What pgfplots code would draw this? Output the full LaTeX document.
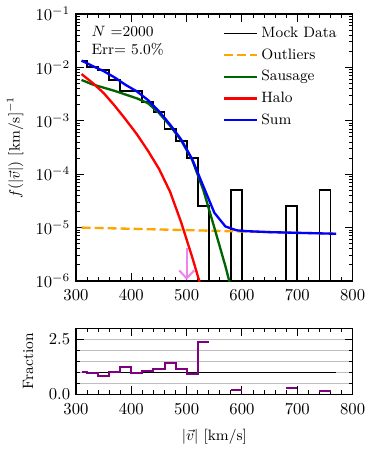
\documentclass[border=0pt]{standalone}
\usepackage{pgfplots}
\pgfplotsset{compat=1.18}
\usetikzlibrary{arrows.meta}

\definecolor{mplorange}{RGB}{255,165,0}
\definecolor{mplgreen}{RGB}{0,100,0}
\definecolor{mplviolet}{RGB}{238,130,238}
\definecolor{mplpurple}{RGB}{128,0,128}

\pgfplotsset{
  panel/.style={
    scale only axis, width=166pt,
    xmin=300, xmax=800,
    xtick={300,400,...,800}, minor x tick num=4,
    tick align=inside, xtick pos=both, ytick pos=both,
    xticklabel pos=lower, yticklabel pos=left,
    major tick length=4.8pt, minor tick length=2.4pt,
    every tick/.style={black, line width=0.6pt},
    axis line style={line width=0.8pt},
    ticklabel style={font=\fontsize{10}{12}\selectfont},
    xticklabel style={yshift=-2pt},
    label style={font=\fontsize{9}{11}\selectfont},
    legend image code/.code={\draw[##1] (0pt,0pt) -- (19.6pt,0pt);},
  },
}

\begin{document}
\begin{tikzpicture}
\path[use as bounding box] (-45.6pt,-103.2pt) rectangle (178.2pt,168.6pt);

\begin{axis}[panel, name=main, at={(0,0)}, anchor=south west,
  height=160.2pt,
  ymode=log, ymin=1e-6, ymax=1e-1,
  ytick={1e-6,1e-5,1e-4,1e-3,1e-2,1e-1},
  ylabel={$f(|\vec{v}|)$ [km/s]$^{-1}$},
  ylabel style={at={(axis description cs:-0.22,0.5)}, anchor=center},
  legend style={draw=none, fill=none, at={(axis description cs:0.955,0.965)},
    anchor=north east, font=\fontsize{9}{10.8}\selectfont,
    row sep=1.2pt, inner sep=0pt},
  legend cell align=left,
  ]
  % mock data histogram (left bin edges)
  \addplot[black, line width=1.1pt, const plot] coordinates {
    (310,0.0132) (320,0.0103) (340,0.00893) (360,0.0058) (380,0.00366)
    (400,0.00366) (420,0.00228) (440,0.00148) (460,0.00069) (480,0.000425)
    (500,0.000201) (520,2.5e-5) (540,1e-8) (580,5e-5) (600,1e-8)
    (680,2.5e-5) (700,1e-8) (740,5e-5) (760,1e-8) (770,1e-8)
  };
  \addlegendentry{Mock Data}
  \addplot[mplorange, line width=1.4pt, dash pattern=on 5.4pt off 2.4pt] coordinates {
    (310,1.00e-5) (410,9.44e-6) (510,8.91e-6) (610,8.41e-6) (710,7.94e-6) (770,7.67e-6)
  };
  \addlegendentry{Outliers}
  \addplot[mplgreen, line width=1.4pt] coordinates {
    (310,5.81e-3) (330,4.79e-3) (350,4.17e-3) (370,3.63e-3) (390,3.09e-3)
    (410,2.63e-3) (430,2.14e-3) (450,1.40e-3) (470,8.1e-4) (490,4.3e-4)
    (510,1.85e-4) (530,5.1e-5) (550,1.0e-5) (570,1.9e-6) (590,3e-7)
  };
  \addlegendentry{Sausage}
  \addplot[red, line width=1.4pt] coordinates {
    (310,7.50e-3) (330,5.13e-3) (350,3.31e-3) (370,1.91e-3) (390,1.05e-3)
    (410,5.6e-4) (430,2.75e-4) (450,1.26e-4) (470,4.7e-5) (490,1.26e-5)
    (510,2.8e-6) (530,5.6e-7)
  };
  \addlegendentry{Halo}
  \addplot[blue, line width=1.4pt] coordinates {
    (310,1.34e-2) (330,1.06e-2) (350,8.51e-3) (370,6.46e-3) (390,4.68e-3)
    (410,3.55e-3) (430,2.45e-3) (450,1.51e-3) (470,8.5e-4) (490,4.47e-4)
    (510,1.91e-4) (530,6.0e-5) (550,1.9e-5) (570,1.05e-5) (590,8.9e-6)
    (610,8.55e-6) (630,8.4e-6) (650,8.22e-6) (670,8.13e-6) (690,8.03e-6)
    (710,7.94e-6) (730,7.85e-6) (750,7.76e-6) (770,7.67e-6)
  };
  \addlegendentry{Sum}
  \addplot[mplviolet, line width=1.2pt, -{Straight Barb[length=4.8pt,width=9pt]}, forget plot]
    coordinates {(500,4.1e-6) (500,1.05e-6)};
  \node[anchor=north west, align=left, inner sep=0pt, font=\fontsize{9}{10.8}\selectfont]
    at (axis description cs:0.055,0.955) {$N$ =2000\\Err= 5.0\%};
\end{axis}

\begin{axis}[panel, name=frac, at={(0,-28.4pt)}, anchor=north west,
  height=39.6pt,
  ymin=0, ymax=3,
  ytick={0,2.5}, minor ytick={0.5,1,1.5,2},
  yticklabel style={/pgf/number format/fixed, /pgf/number format/precision=1,
    /pgf/number format/fixed zerofill},
  ymajorgrids, yminorgrids,
  major grid style={gray!50, line width=0.8pt},
  minor grid style={gray!50, line width=0.8pt},
  xlabel={$|\vec{v}|$ [km/s]},
  xlabel style={at={(axis description cs:0.5,-0.64)}, anchor=center},
  ylabel={Fraction},
  ylabel style={at={(axis description cs:-0.1735,0.5)}, anchor=center},
  ]
  \addplot[black, line width=0.9pt] coordinates {(310,1) (770,1)};
  \addplot[mplpurple, line width=1.2pt, const plot] coordinates {
    (310,1.03) (320,0.95) (340,0.85) (360,1.03) (380,1.23) (400,0.95)
    (420,1.06) (440,1.17) (460,1.44) (480,1.17) (500,0.92) (520,2.39) (540,2.39)
  };
  \addplot[mplpurple, line width=1.2pt] coordinates {(580,0.19) (600,0.19)};
  \addplot[mplpurple, line width=1.2pt] coordinates {(680,0.31) (700,0.31)};
  \addplot[mplpurple, line width=1.2pt] coordinates {(740,0.16) (760,0.16)};
\end{axis}
\end{tikzpicture}
\end{document}
